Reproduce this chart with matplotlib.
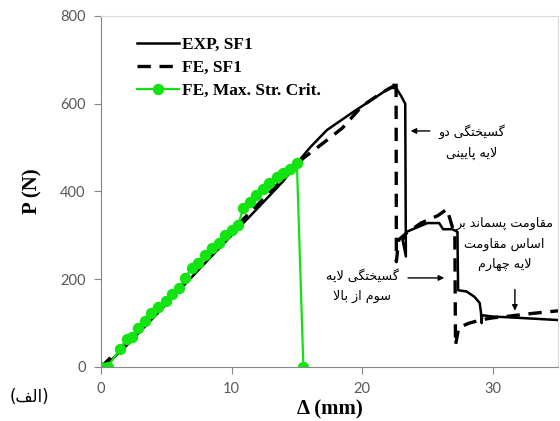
import matplotlib
matplotlib.use('Agg')
import matplotlib.pyplot as plt

# EXP, SF1 (solid)
exp_x = [0, 0.5, 1, 2, 4, 6, 8, 10, 12, 14, 15.1, 16, 17.3, 19.3, 21.3, 22.1, 22.6, 23.0, 23.3,
         23.35, 23.1, 23.4, 24.2, 25.0, 25.9, 26.2, 26.9, 27.3,
         27.35, 28.0, 28.6, 29.0, 29.1, 29.15, 29.2, 30, 32, 35]
exp_y = [0, 8, 22, 50, 112, 175, 238, 300, 362, 425, 468, 500, 540, 581, 620, 636, 636, 617, 600,
         252, 289, 308, 318, 328, 328, 314, 314, 308,
         175, 172, 160, 146, 125, 100, 118, 115, 112, 107]

# FE, SF1 (dashed)
fe_x = [0, 2, 4, 6, 8, 10, 12, 14, 15.5, 17, 18.5, 20, 21.5, 22.4, 22.6,
        22.62, 22.8, 23.4, 24.5, 25.8, 26.5, 27.1, 27.15, 27.4, 28.2, 29.2, 30, 31, 33, 35]
fe_y = [0, 58, 120, 182, 248, 310, 370, 430, 476, 510, 545, 595, 625, 640, 655,
        240, 290, 305, 328, 345, 360, 300, 50, 90, 100, 108, 112, 115, 122, 128]

# FE, Max. Str. Crit. (green markers)
ms_x = [0, 0.5, 1.45, 2.0, 2.4, 2.8, 3.4, 3.8, 4.4, 5.0, 5.4, 6.0, 6.4, 7.0, 7.4, 8.0, 8.5,
        9.0, 9.5, 10.0, 10.5, 10.9, 11.4, 11.9, 12.4, 12.9, 13.5, 13.9, 14.5, 15.0, 15.5]
ms_y = [0, 0, 41, 64, 68, 89, 105, 123, 137, 150, 166, 180, 203, 226, 237, 255, 271,
        283, 301, 312, 324, 362, 376, 392, 406, 419, 433, 442, 451, 465, 0]

x_ticks = [0, 10, 20, 30]
y_ticks = [0, 200, 400, 600, 800]

# Persian labels (logical order)
note_1 = ['گسیختگی دو', 'لایه پایینی']
note_2 = ['گسیختگی لایه', 'سوم از بالا']
note_3 = ['مقاومت پسماند بر', 'اساس مقاومت', 'لایه چهارم']
panel = '(الف)'

# isolated, final, initial, medial
FORMS = {
    'ا': ('\uFE8D', '\uFE8E', None, None),
    'د': ('\uFEA9', '\uFEAA', None, None),
    'ر': ('\uFEAD', '\uFEAE', None, None),
    'ز': ('\uFEAF', '\uFEB0', None, None),
    'و': ('\uFEED', '\uFEEE', None, None),
    'ب': ('\uFE8F', '\uFE90', '\uFE91', '\uFE92'),
    'ت': ('\uFE95', '\uFE96', '\uFE97', '\uFE98'),
    'خ': ('\uFEA5', '\uFEA6', '\uFEA7', '\uFEA8'),
    'س': ('\uFEB1', '\uFEB2', '\uFEB3', '\uFEB4'),
    'ص': ('\uFEB9', '\uFEBA', '\uFEBB', '\uFEBC'),
    'ف': ('\uFED1', '\uFED2', '\uFED3', '\uFED4'),
    'ق': ('\uFED5', '\uFED6', '\uFED7', '\uFED8'),
    'ل': ('\uFEDD', '\uFEDE', '\uFEDF', '\uFEE0'),
    'م': ('\uFEE1', '\uFEE2', '\uFEE3', '\uFEE4'),
    'ن': ('\uFEE5', '\uFEE6', '\uFEE7', '\uFEE8'),
    'ه': ('\uFEE9', '\uFEEA', '\uFEEB', '\uFEEC'),
    'پ': ('\uFB56', '\uFB57', '\uFB58', '\uFB59'),
    'چ': ('\uFB7A', '\uFB7B', '\uFB7C', '\uFB7D'),
    'ک': ('\uFB8E', '\uFB8F', '\uFB90', '\uFB91'),
    'گ': ('\uFB92', '\uFB93', '\uFB94', '\uFB95'),
    'ی': ('\uFBFC', '\uFBFD', '\uFBFE', '\uFBFF'),
}


def dual(c):
    return c in FORMS and FORMS[c][2] is not None


def shape(s):
    # simple arabic shaping + reorder, matplotlib has no bidi support
    out = []
    i = 0
    while i < len(s):
        c = s[i]
        prev = s[i - 1] if i > 0 else ''
        joins_prev = dual(prev)
        if c == 'ل' and i + 1 < len(s) and s[i + 1] == 'ا':
            out.append('\uFEFC' if joins_prev else '\uFEFB')
            i += 2
            continue
        if c in FORMS:
            nxt = s[i + 1] if i + 1 < len(s) else ''
            joins_next = dual(c) and nxt in FORMS
            f = FORMS[c]
            if joins_prev and joins_next:
                out.append(f[3])
            elif joins_prev:
                out.append(f[1])
            elif joins_next:
                out.append(f[2])
            else:
                out.append(f[0])
        else:
            out.append(c)
        i += 1
    vis = ''.join(reversed(out))
    return vis.translate(str.maketrans('()', ')('))


fig = plt.figure(figsize=(5.6, 4.21), dpi=100)
ax = fig.add_axes([0.1804, 0.1283, 0.816, 0.8337])

ax.plot(exp_x, exp_y, color='black', lw=1.8, label='EXP, SF1')
ax.plot(fe_x, fe_y, color='black', lw=2.4, dashes=(4, 2.6), label='FE, SF1')
ax.plot(ms_x, ms_y, color='#11E411', lw=1.6, marker='o', ms=7.2, label='FE, Max. Str. Crit.')

ax.set_xlim(0, 35)
ax.set_ylim(0, 800)
ax.set_xticks(x_ticks)
ax.set_yticks(y_ticks)
ax.tick_params(direction='out', length=5, color='#868686', labelcolor='#595959',
               labelsize=10.5, pad=6)
for lab in ax.get_xticklabels() + ax.get_yticklabels():
    lab.set_family('Lato')
for s in ['left', 'bottom']:
    ax.spines[s].set_color('#868686')
for s in ['top', 'right']:
    ax.spines[s].set_color('#D9D9D9')

ax.set_xlabel('Δ (mm)', family='Liberation Serif', fontweight='bold', fontsize=15, labelpad=2)
ax.set_ylabel('P (N)', family='Liberation Serif', fontweight='bold', fontsize=15, labelpad=13)

leg = ax.legend(loc='upper left', bbox_to_anchor=(0.045, 0.985), frameon=False,
                prop={'family': 'Liberation Serif', 'weight': 'bold', 'size': 12.5},
                handlelength=2.4, handletextpad=0.2, labelspacing=0.4)

txt = dict(family='DejaVu Sans', fontsize=9.2, ha='center', va='center', linespacing=1.75)
arr = dict(arrowstyle='-|>', color='black', lw=1.0, mutation_scale=8)

ax.text(28.4, 513, '\n'.join(shape(t) for t in note_1), **txt)
ax.annotate('', xy=(23.5, 538), xytext=(25.4, 538), arrowprops=arr)

ax.text(20.0, 185, '\n'.join(shape(t) for t in note_2), **txt)
ax.annotate('', xy=(26.5, 203), xytext=(23.3, 203), arrowprops=arr)

ax.text(30.9, 280, '\n'.join(shape(t) for t in note_3), **txt)
ax.annotate('', xy=(31.7, 122), xytext=(31.7, 183), arrowprops=arr)

fig.text(29 / 560, 1 - 397 / 421, shape(panel), family='DejaVu Sans', fontsize=12,
         ha='center', va='center')

fig.savefig('out.png', dpi=100)
